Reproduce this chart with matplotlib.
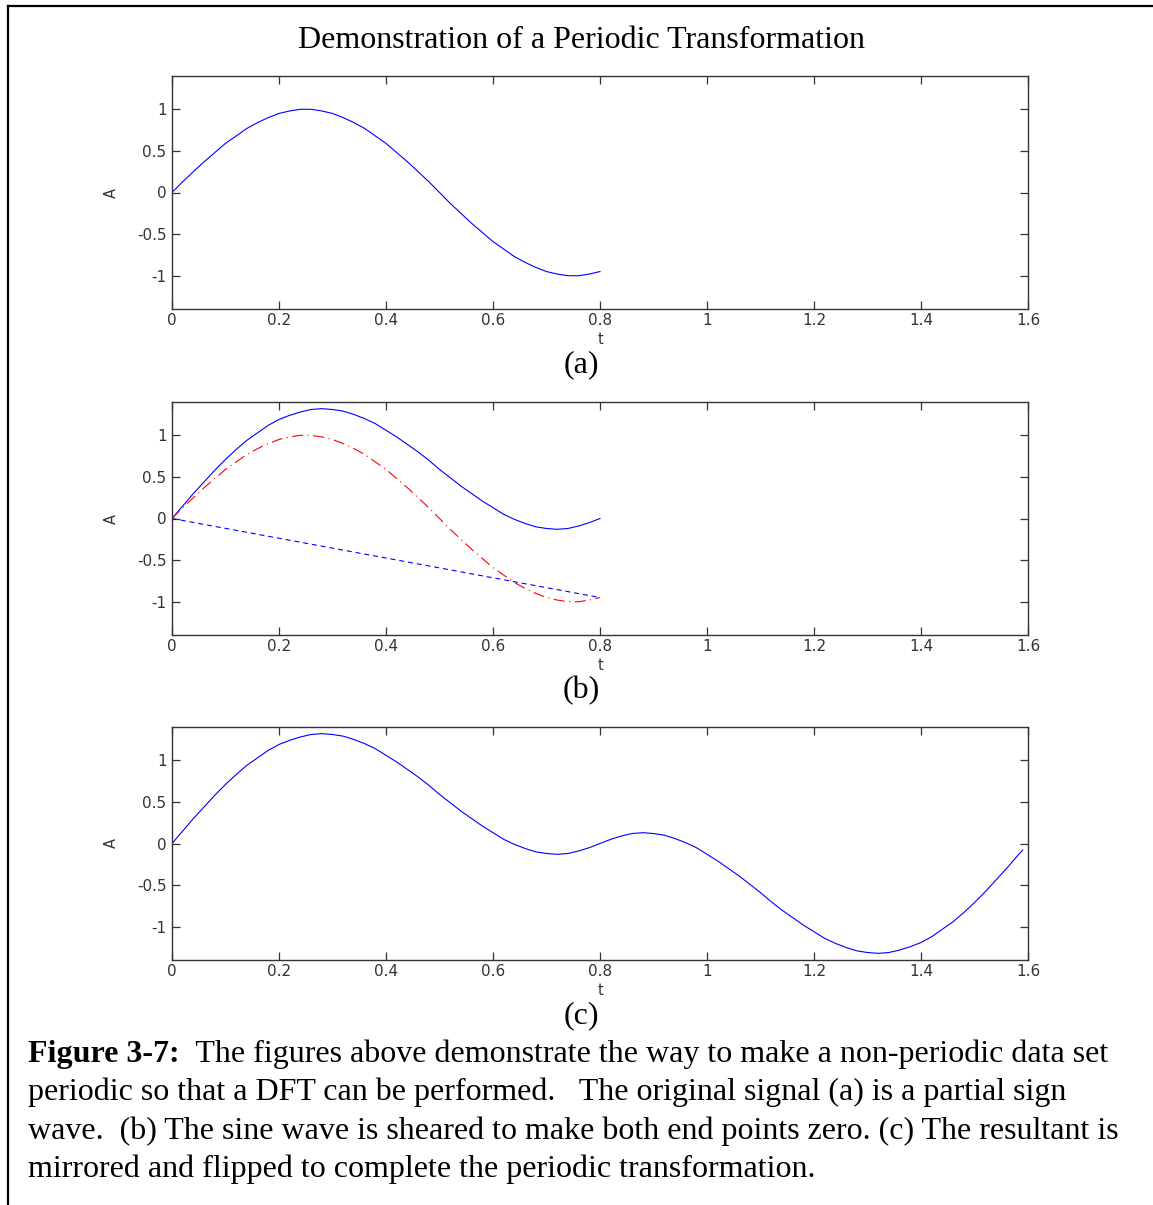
import numpy as np
import matplotlib
matplotlib.use("Agg")
import matplotlib.pyplot as plt
from matplotlib.lines import Line2D

# values, t step 0.02
t_half = [0.00, 0.02, 0.04, 0.06, 0.08, 0.10, 0.12, 0.14, 0.16, 0.18,
          0.20, 0.22, 0.24, 0.26, 0.28, 0.30, 0.32, 0.34, 0.36, 0.38,
          0.40, 0.42, 0.44, 0.46, 0.48, 0.50, 0.52, 0.54, 0.56, 0.58,
          0.60, 0.62, 0.64, 0.66, 0.68, 0.70, 0.72, 0.74, 0.76, 0.78, 0.80]
sig_orig = [0.00, 0.13, 0.25, 0.37, 0.48, 0.59, 0.68, 0.77, 0.84, 0.90,
            0.95, 0.98, 1.00, 1.00, 0.98, 0.95, 0.90, 0.84, 0.77, 0.68,
            0.59, 0.48, 0.37, 0.25, 0.13, 0.00, -0.13, -0.25, -0.37, -0.48,
            -0.59, -0.68, -0.77, -0.84, -0.90, -0.95, -0.98, -1.00, -1.00, -0.98, -0.95]
sig_shear = [0.00, 0.15, 0.30, 0.44, 0.58, 0.71, 0.83, 0.94, 1.03, 1.12,
             1.19, 1.24, 1.28, 1.31, 1.32, 1.31, 1.29, 1.25, 1.20, 1.14,
             1.06, 0.98, 0.89, 0.80, 0.70, 0.59, 0.49, 0.39, 0.30, 0.21,
             0.13, 0.05, -0.01, -0.06, -0.10, -0.12, -0.13, -0.12, -0.09, -0.05, 0.00]
trend_t = [0.0, 0.8]
trend_y = [0.0, -0.95]

t_full = t_half + [0.82, 0.84, 0.86, 0.88, 0.90, 0.92, 0.94, 0.96, 0.98,
                   1.00, 1.02, 1.04, 1.06, 1.08, 1.10, 1.12, 1.14, 1.16, 1.18,
                   1.20, 1.22, 1.24, 1.26, 1.28, 1.30, 1.32, 1.34, 1.36, 1.38,
                   1.40, 1.42, 1.44, 1.46, 1.48, 1.50, 1.52, 1.54, 1.56, 1.58, 1.59]
sig_periodic = sig_shear + [0.05, 0.09, 0.12, 0.13, 0.12, 0.10, 0.06, 0.01, -0.05,
                            -0.13, -0.21, -0.30, -0.39, -0.49, -0.59, -0.70, -0.80, -0.89, -0.98,
                            -1.06, -1.14, -1.20, -1.25, -1.29, -1.31, -1.32, -1.31, -1.28, -1.24,
                            -1.19, -1.12, -1.03, -0.94, -0.83, -0.71, -0.58, -0.44, -0.30, -0.15, -0.08]

xticks = [0, 0.2, 0.4, 0.6, 0.8, 1, 1.2, 1.4, 1.6]
xtick_labels = ["0", "0.2", "0.4", "0.6", "0.8", "1", "1.2", "1.4", "1.6"]
yticks = [-1, -0.5, 0, 0.5, 1]
ytick_labels = ["-1", "-0.5", "0", "0.5", "1"]
panel_tags = ["(a)", "(b)", "(c)"]

title = "Demonstration of a Periodic Transformation"
cap_bold = "Figure 3-7:"
cap_lines = ["  The figures above demonstrate the way to make a non-periodic data set",
             "periodic so that a DFT can be performed.   The original signal (a) is a partial sign",
             "wave.  (b) The sine wave is sheared to make both end points zero. (c) The resultant is",
             "mirrored and flipped to complete the periodic transformation."]

W, H = 1153, 1205
fig = plt.figure(figsize=(W / 100, H / 100), dpi=100)
serif = "Liberation Serif"
axcol = "#333333"
fs_big = 23


def px(x, y):
    return x / W, 1 - y / H


def setup(ax):
    ax.set_xlim(0, 1.6)
    ax.set_ylim(-1.4, 1.4)
    ax.set_xticks(xticks)
    ax.set_xticklabels(xtick_labels)
    ax.set_yticks(yticks)
    ax.set_yticklabels(ytick_labels)
    ax.tick_params(direction="in", length=6, width=0.9, top=True, right=True,
                   labelsize=11, colors=axcol, pad=4)
    ax.tick_params(axis="x", pad=3)
    for s in ax.spines.values():
        s.set_color(axcol)
        s.set_linewidth(1.0)
    ax.set_ylabel("A", fontsize=10.5, color=axcol)
    ax.yaxis.set_label_coords(-0.062, 0.5)
    ax.set_xlabel("t", fontsize=10.5, color=axcol)
    ax.xaxis.set_label_coords(0.5, -0.1)


tops = [76, 402, 727]
axes = []
for top in tops:
    l, b = px(172, top + 233)
    ax = fig.add_axes([l, b, 856 / W, 233 / H])
    setup(ax)
    axes.append(ax)

axes[0].plot(t_half, sig_orig, color="blue", lw=0.8)

axes[1].plot(t_half, sig_shear, color="blue", lw=0.8)
axes[1].plot(t_half, sig_orig, color="red", lw=0.8, ls=(0, (10, 4, 1, 4)))
axes[1].plot(trend_t, trend_y, color="blue", lw=0.8, ls=(0, (4.5, 3.5)))

axes[2].plot(t_full, sig_periodic, color="blue", lw=0.8)

# panel tags below each axes
for top, tag in zip(tops, panel_tags):
    x, y = px(581, top + 289)
    fig.text(x, y, tag, family=serif, fontsize=fs_big, ha="center", va="center")

x, y = px(581, 40)
fig.text(x, y, title, family=serif, fontsize=fs_big, ha="center", va="center")

# caption with bold lead-in
x0, y0 = px(28, 1062)
renderer = fig.canvas.get_renderer()
tb = fig.text(x0, y0, cap_bold, family=serif, fontsize=fs_big, weight="bold",
              ha="left", va="baseline")
bb = tb.get_window_extent(renderer)
fig.text(bb.x1 / W, y0, cap_lines[0], family=serif, fontsize=fs_big,
         ha="left", va="baseline")
for i, line in enumerate(cap_lines[1:], start=1):
    fig.text(x0, px(0, 1062 + 38.3 * i)[1], line, family=serif, fontsize=fs_big,
             ha="left", va="baseline")

# page border: top and left edge
fig.add_artist(Line2D([8 / W, 1], [1 - 6 / H, 1 - 6 / H], color="black", lw=1.6,
                      transform=fig.transFigure))
fig.add_artist(Line2D([8 / W, 8 / W], [0, 1 - 6 / H], color="black", lw=1.6,
                      transform=fig.transFigure))

fig.savefig("out.png", dpi=100)
